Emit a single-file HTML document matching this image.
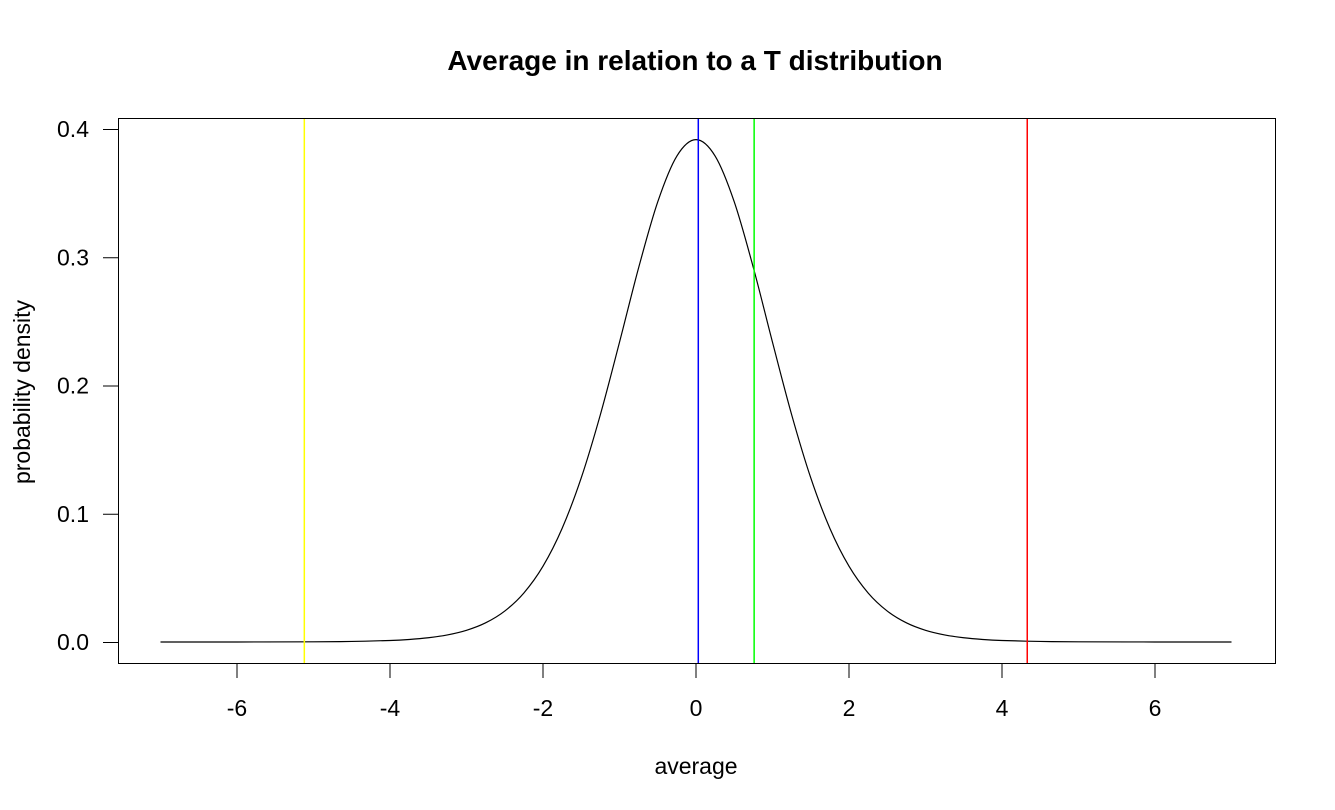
<!DOCTYPE html>
<html><head><meta charset="utf-8"><style>
html,body{margin:0;padding:0;background:#fff;}
svg{display:block;font-family:"Liberation Sans",Arial,sans-serif;}
</style></head><body>
<svg id="chart" width="1335" height="810" viewBox="0 0 1335 810" xmlns="http://www.w3.org/2000/svg">
<rect x="0" y="0" width="1335" height="810" fill="#fff"/>
<text x="695" y="70" text-anchor="middle" font-size="28" font-weight="bold">Average in relation to a T distribution</text>
<text x="696" y="774" text-anchor="middle" font-size="23">average</text>
<text transform="translate(30,392) rotate(-90)" text-anchor="middle" font-size="23">probability density</text>
<g id="marks"></g>
<rect x="118.5" y="118.5" width="1157" height="545" fill="none" stroke="#000" stroke-width="1"/>
</svg>
<script>
const xTicks = [-6,-4,-2,0,2,4,6];
const yTicks = [0.0,0.1,0.2,0.3,0.4];
const yTickLabels = ["0.0","0.1","0.2","0.3","0.4"];
const curveX = [-7,-6,-5,-4.5,-4,-3.75,-3.5,-3.25,-3,-2.75,-2.5,-2.25,-2,-1.75,-1.5,-1.25,-1,-0.75,-0.5,-0.25,0,0.25,0.5,0.75,1,1.25,1.5,1.75,2,2.25,2.5,2.75,3,3.25,3.5,3.75,4,4.5,5,6,7];
const curveY = [0.000005,0.00002,0.00015,0.00042,0.00118,0.00197,0.0033,0.00551,0.00912,0.01494,0.02414,0.03824,0.0591,0.0886,0.128,0.1773,0.2337,0.2918,0.3432,0.3789,0.3917,0.3789,0.3432,0.2918,0.2337,0.1773,0.128,0.0886,0.0591,0.03824,0.02414,0.01494,0.00912,0.00551,0.0033,0.00197,0.00118,0.00042,0.00015,0.00002,0.000005];
const vlineNames = ["mean-line","average-line","lower-bound-line","upper-bound-line"];
const vlineValues = [0.03,0.76,-5.12,4.33];
const vlineColors = ["#0000ff","#00ff00","#ffff00","#ff0000"];

const NS="http://www.w3.org/2000/svg";
const sx = v => 696 + v*76.5;
const sy = v => 642 - v*1282.5;
const g = document.getElementById('marks');
const svg = document.getElementById('chart');
function mk(tag, attrs, parent){const e=document.createElementNS(NS,tag);for(const k in attrs)e.setAttribute(k,attrs[k]);(parent||g).appendChild(e);return e;}

const xa = mk('line',{x1:sx(xTicks[0]),x2:sx(xTicks[xTicks.length-1]),y1:663.5,y2:663.5,stroke:'#000'},svg);


xTicks.forEach(t=>{
  const l=mk('line',{x1:sx(t),x2:sx(t),y1:663.5,y2:678,stroke:'#000'},svg);
  
  
  const tx=mk('text',{x:sx(t),y:716,'text-anchor':'middle','font-size':'23'},svg);
  tx.textContent=String(t);
  
  
});
const ya = mk('line',{x1:118.5,x2:118.5,y1:sy(yTicks[0]),y2:sy(yTicks[yTicks.length-1]),stroke:'#000'},svg);


yTicks.forEach((t,i)=>{
  const l=mk('line',{x1:103,x2:118.5,y1:sy(t)+0.5,y2:sy(t)+0.5,stroke:'#000'},svg);
  
  
  const tx=mk('text',{x:89,y:sy(t)+8,'text-anchor':'end','font-size':'23'},svg);
  tx.textContent=yTickLabels[i];
  
  
});
const P=curveX.map((x,i)=>[sx(x),sy(curveY[i])]);
let d=`M${P[0][0]},${P[0][1]}`;
for(let i=0;i<P.length-1;i++){
  const p0=P[Math.max(0,i-1)],p1=P[i],p2=P[i+1],p3=P[Math.min(P.length-1,i+2)];
  const c1=[p1[0]+(p2[0]-p0[0])/6,p1[1]+(p2[1]-p0[1])/6];
  const c2=[p2[0]-(p3[0]-p1[0])/6,p2[1]-(p3[1]-p1[1])/6];
  d+=`C${c1[0]},${c1[1]} ${c2[0]},${c2[1]} ${p2[0]},${p2[1]}`;
}
const curve=mk('path',{d:d,fill:'none',stroke:'#000','stroke-width':'1.2'});


vlineValues.forEach((v,i)=>{
  const l=mk('line',{x1:sx(v),x2:sx(v),y1:118.5,y2:663.5,stroke:vlineColors[i],'stroke-width':'1.5'});
  
  
});
</script>
</body></html>
